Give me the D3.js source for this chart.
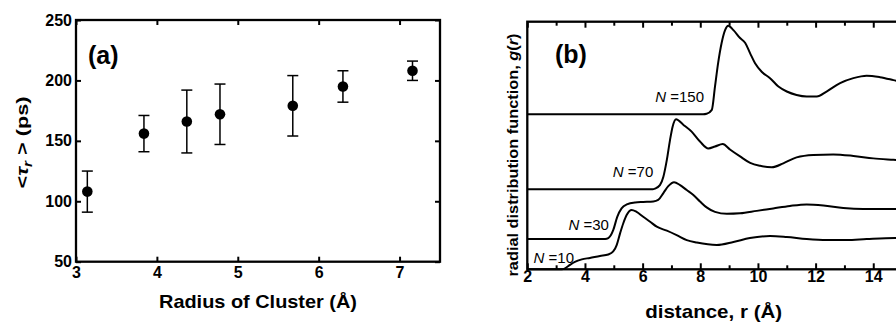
<!DOCTYPE html>
<html>
<head>
<meta charset="utf-8">
<script src="https://cdn.jsdelivr.net/npm/d3@7"></script>
<style>
  body { margin: 0; background: #fff; }
  svg text { font-family: "Liberation Sans", Arial, sans-serif; fill: #000; }
</style>
</head>
<body>
<svg id="fig" width="896" height="322"></svg>
<script>
// ---- panel (a): rotational time vs cluster radius ----
const radius = [3.14, 3.84, 4.37, 4.78, 5.68, 6.30, 7.16];
const tauR = [108, 156, 166, 172, 179, 195, 208];
const tauErr = [17, 15, 26, 25, 25, 13, 8];
const xTicksA = [3, 4, 5, 6, 7];
const yTicksA = [50, 100, 150, 200, 250];

// ---- panel (b): g(r), curves shifted upwards ----
const curveNames = ["N =10", "N =30", "N =70", "N =150"];
const g10 = [[2, 0], [3.2, 0], [3.31, 0.02], [3.48, 0.09], [3.65, 0.15], [3.89, 0.2], [4.17, 0.23], [4.52, 0.27],
  [4.81, 0.3], [4.98, 0.36], [5.1, 0.49], [5.22, 0.73], [5.33, 0.93], [5.45, 1.1], [5.62, 1.2], [5.79, 1.16],
  [6.02, 1.06], [6.26, 0.96], [6.49, 0.86], [6.84, 0.78], [7.18, 0.69], [7.53, 0.59], [7.88, 0.54], [8.57, 0.49],
  [9.15, 0.55], [9.72, 0.63], [10.42, 0.67], [11.0, 0.65], [11.69, 0.61], [12.38, 0.59], [13.08, 0.59],
  [13.77, 0.61], [14.75, 0.63], [15.2, 0.63]];
const g30 = [[2, 0.612], [4.7, 0.612], [4.81, 0.63], [4.98, 0.79], [5.12, 1.06], [5.27, 1.23], [5.45, 1.31],
  [5.74, 1.35], [6.02, 1.36], [6.37, 1.37], [6.54, 1.4], [6.72, 1.54], [6.89, 1.68], [7.09, 1.76], [7.3, 1.7],
  [7.53, 1.6], [7.76, 1.5], [7.99, 1.37], [8.22, 1.25], [8.51, 1.16], [8.92, 1.12], [9.38, 1.13], [9.96, 1.18],
  [10.53, 1.23], [11.11, 1.28], [11.69, 1.31], [12.27, 1.29], [12.96, 1.24], [13.65, 1.22], [14.23, 1.22],
  [14.75, 1.22], [15.2, 1.22]];
const g70 = [[2, 1.616], [6.35, 1.616], [6.43, 1.63], [6.6, 1.7], [6.72, 1.87], [6.84, 2.21], [6.95, 2.61],
  [7.04, 2.88], [7.16, 3.03], [7.41, 2.92], [7.7, 2.78], [7.99, 2.58], [8.28, 2.44], [8.51, 2.48], [8.78, 2.53],
  [9.03, 2.42], [9.38, 2.28], [9.73, 2.15], [10.08, 2.09], [10.48, 2.06], [10.88, 2.14], [11.34, 2.26],
  [11.92, 2.31], [12.61, 2.32], [13.31, 2.29], [14.0, 2.24], [14.7, 2.21], [15.2, 2.19]];
const g150 = [[2, 3.13], [8.1, 3.13], [8.22, 3.14], [8.4, 3.22], [8.51, 3.69], [8.62, 4.17], [8.74, 4.57],
  [8.86, 4.83], [8.97, 4.92], [9.15, 4.83], [9.38, 4.67], [9.56, 4.57], [9.73, 4.36], [9.9, 4.16], [10.13, 3.99],
  [10.42, 3.86], [10.71, 3.69], [11.0, 3.59], [11.34, 3.52], [11.69, 3.49], [12.04, 3.49], [12.38, 3.59],
  [12.85, 3.76], [13.31, 3.86], [13.77, 3.91], [14.23, 3.88], [14.7, 3.82], [15.2, 3.75]];
const curves = [g10, g30, g70, g150];
const xMajorB = [2, 4, 6, 8, 10, 12, 14];
const xMinorB = [3, 5, 7, 9, 11, 13, 15];

const svg = d3.select("#fig");

/**
 * Draw axis ticks pointing into the plot, remove the domain line
 */
function styleAxis(g, width) {
  g.select(".domain").remove();
  g.selectAll(".tick line").attr("stroke", "#000").attr("stroke-width", width);
  g.selectAll(".tick text")
    .style("font-size", "16px")
    .style("font-weight", "bold");
}

function drawPanelA() {
  const x = d3.scaleLinear().domain([3, 7.5]).range([76, 440]);
  const y = d3.scaleLinear().domain([50, 250]).range([261.7, 20]);
  const g = svg.append("g");

  g.append("g").attr("transform", "translate(0,261.7)")
    .call(d3.axisBottom(x).tickValues(xTicksA).tickSize(-5).tickPadding(5).tickFormat(d3.format("d")))
    .call(styleAxis, 2);
  g.append("g").attr("transform", "translate(0,20)")
    .call(d3.axisTop(x).tickValues(xTicksA).tickSize(-5).tickFormat(""))
    .call(styleAxis, 2);
  g.append("g").attr("transform", "translate(76,0)")
    .call(d3.axisLeft(y).tickValues(yTicksA).tickSize(-5).tickPadding(4).tickFormat(d3.format("d")))
    .call(styleAxis, 2);
  g.append("g").attr("transform", "translate(440,0)")
    .call(d3.axisRight(y).tickValues(yTicksA).tickSize(-5).tickFormat(""))
    .call(styleAxis, 2);

  // frame
  g.append("rect")
    .attr("x", x(3)).attr("y", y(250))
    .attr("width", x(7.5) - x(3)).attr("height", y(50) - y(250))
    .attr("fill", "none").attr("stroke", "#000").attr("stroke-width", 2.3);

  const pts = radius.map((r, i) => ({ r: r, v: tauR[i], e: tauErr[i] }));

  // error bars
  const bars = g.selectAll(".errbar").data(pts).enter().append("g").attr("class", "errbar")
    .attr("stroke", "#000").attr("stroke-width", 1.5);
  bars.append("line")
    .attr("x1", (d) => x(d.r)).attr("x2", (d) => x(d.r))
    .attr("y1", (d) => y(d.v - d.e)).attr("y2", (d) => y(d.v + d.e));
  bars.append("line")
    .attr("x1", (d) => x(d.r) - 5.5).attr("x2", (d) => x(d.r) + 5.5)
    .attr("y1", (d) => y(d.v + d.e)).attr("y2", (d) => y(d.v + d.e));
  bars.append("line")
    .attr("x1", (d) => x(d.r) - 5.5).attr("x2", (d) => x(d.r) + 5.5)
    .attr("y1", (d) => y(d.v - d.e)).attr("y2", (d) => y(d.v - d.e));

  g.selectAll(".datapoint").data(pts).enter().append("circle")
    .attr("class", "datapoint")
    .attr("cx", (d) => x(d.r)).attr("cy", (d) => y(d.v))
    .attr("r", 5.3).attr("fill", "#000");

  g.append("text").attr("x", 88).attr("y", 64)
    .style("font-size", "25px").style("font-weight", "bold").text("(a)");

  g.append("text").attr("x", 258).attr("y", 308)
    .attr("text-anchor", "middle").attr("textLength", 198).attr("lengthAdjust", "spacingAndGlyphs")
    .style("font-size", "18.5px").style("font-weight", "bold")
    .text("Radius of Cluster (\u00c5)");

  const yt = g.append("text")
    .attr("transform", "translate(27.5,142.5) rotate(-90)")
    .attr("text-anchor", "middle").attr("textLength", 92).attr("lengthAdjust", "spacingAndGlyphs")
    .style("font-size", "17px").style("font-weight", "bold");
  yt.append("tspan").text("<");
  yt.append("tspan").style("font-style", "italic").text("\u03c4");
  yt.append("tspan").style("font-style", "italic").style("font-size", "12px").attr("dy", 4).text("r");
  yt.append("tspan").attr("dy", -4).text(" > (ps)");
}

function drawPanelB() {
  const x = d3.scaleLinear().domain([2, 16]).range([527.3, 527.3 + 14 * 28.83]);
  const y = d3.scaleLinear().domain([0, 5]).range([269.3, 21.7]);
  const g = svg.append("g");

  g.append("g").attr("transform", "translate(0,269.3)")
    .call(d3.axisBottom(x).tickValues(xMajorB).tickSize(-6).tickPadding(1.5).tickFormat(d3.format("d")))
    .call(styleAxis, 2);
  g.append("g").attr("transform", "translate(0,269.3)")
    .call(d3.axisBottom(x).tickValues(xMinorB).tickSize(-4).tickFormat(""))
    .call(styleAxis, 2);
  g.append("g").attr("transform", "translate(0,21.7)")
    .call(d3.axisTop(x).tickValues(xMajorB).tickSize(-6).tickFormat(""))
    .call(styleAxis, 2);
  g.append("g").attr("transform", "translate(0,21.7)")
    .call(d3.axisTop(x).tickValues(xMinorB).tickSize(-4).tickFormat(""))
    .call(styleAxis, 2);

  const line = d3.line()
    .x((d) => x(d[0]))
    .y((d) => y(d[1]))
    .curve(d3.curveMonotoneX);

  g.selectAll(".gr").data(curves).enter().append("path")
    .attr("class", "gr")
    .attr("d", line)
    .attr("fill", "none").attr("stroke", "#000").attr("stroke-width", 2);

  g.append("rect")
    .attr("x", x(2)).attr("y", y(5))
    .attr("width", x(16) - x(2)).attr("height", y(0) - y(5))
    .attr("fill", "none").attr("stroke", "#000").attr("stroke-width", 2.3);

  // curve labels: right end (r) and text baseline in px above the curve's flat part
  const labelPos = [[3.62, 6], [4.83, 9], [6.37, 12.6], [8.13, 12.6]];
  curveNames.forEach((name, i) => {
    const t = g.append("text")
      .attr("x", x(labelPos[i][0]))
      .attr("y", y(curves[i][0][1]) - labelPos[i][1])
      .attr("text-anchor", "end")
      .style("font-size", "15px");
    t.append("tspan").style("font-style", "italic").text(name.slice(0, 1));
    t.append("tspan").text(name.slice(1));
  });

  g.append("text").attr("x", 555).attr("y", 63)
    .style("font-size", "25px").style("font-weight", "bold").text("(b)");

  g.append("text").attr("x", 713.7).attr("y", 318)
    .attr("text-anchor", "middle").attr("textLength", 137).attr("lengthAdjust", "spacingAndGlyphs")
    .style("font-size", "18.5px").style("font-weight", "bold")
    .text("distance, r (\u00c5)");

  const yt = g.append("text")
    .attr("transform", "translate(517.5,155) rotate(-90)")
    .attr("text-anchor", "middle").attr("textLength", 243).attr("lengthAdjust", "spacingAndGlyphs")
    .style("font-size", "14.5px").style("font-weight", "bold");
  yt.append("tspan").text("radial distribution function, ");
  yt.append("tspan").style("font-style", "italic").text("g");
  yt.append("tspan").text("(");
  yt.append("tspan").style("font-style", "italic").text("r");
  yt.append("tspan").text(")");
}

drawPanelA();
drawPanelB();
</script>
</body>
</html>
